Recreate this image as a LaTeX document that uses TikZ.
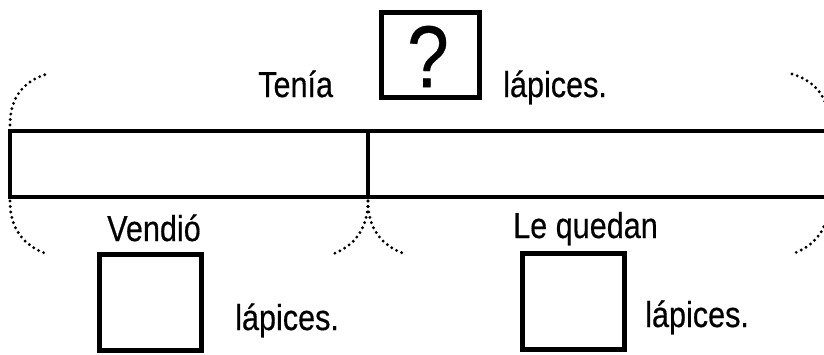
\documentclass[tikz,border=0pt]{standalone}
\usepackage{fontspec}
\setmainfont{Liberation Sans}[FakeStretch=0.85, FakeBold=0.4]
\begin{document}
\begin{tikzpicture}[x=1pt,y=-1pt,
  ansbox/.style={draw, line width=5pt, minimum width=102pt, minimum height=96pt, inner sep=0pt},
  lbl/.style={font=\fontsize{36}{40}\selectfont, inner sep=0pt, anchor=base west},
  dots/.style={line width=3.2pt, line cap=round, dash pattern=on 0pt off 5.5pt}]
\useasboundingbox (0,0) rectangle (824,354);
\clip (0,0) rectangle (824,354);
% bar
\coordinate (tl) at (10,131);
\coordinate (bl) at (10,197);
\coordinate (tr) at (850,131);
\coordinate (br) at (850,197);
\coordinate (mt) at (368,131);
\coordinate (mb) at (368,197);
\draw[line width=3.6pt] (tr) -- (tl) -- (bl) -- (br);
\draw[line width=4.6pt] (mt) -- (mb);
% top
\node[ansbox, minimum width=98pt, minimum height=85pt] (q) at (430.5,55) {};
\node[font=\fontsize{88}{92}\selectfont, inner sep=0pt] (qm) at (428,56.5) {?};
\node[lbl] (tenia) at (258,97) {Tenía};
\node[lbl] (lap1) at (503,97) {lápices.};
% bottom
\node[lbl] (vendio) at (107,241) {Vendió};
\node[lbl] (quedan) at (513,238) {Le quedan};
\node[ansbox] (b1) at (150.5,302.5) {};
\node[ansbox] (b2) at (573.5,301.5) {};
\node[lbl] (lap2) at (235,330) {lápices.};
\node[lbl] (lap3) at (645,327) {lápices.};
% dotted arcs
\coordinate (a1) at (47,74);
\coordinate (a2) at (792,74);
\coordinate (c1) at (47,254);
\coordinate (c2) at (333,254);
\coordinate (c3) at (405,254);
\coordinate (c4) at (792,254);
\coordinate (rt) at (829,125);
\coordinate (rb) at (829,200);
\draw[dots] (10,125) .. controls (10,97) and (24,81) .. (a1);
\draw[dots] (a2) .. controls (815,81) and (829,97) .. (rt);
\draw[dots] (10,201) .. controls (10,229) and (24,246) .. (c1);
\draw[dots] (368,201) .. controls (368,229) and (354,246) .. (c2);
\draw[dots] (368,201) .. controls (368,229) and (382,246) .. (c3);
\draw[dots] (rb) .. controls (829,229) and (815,246) .. (c4);
\end{tikzpicture}
\end{document}
